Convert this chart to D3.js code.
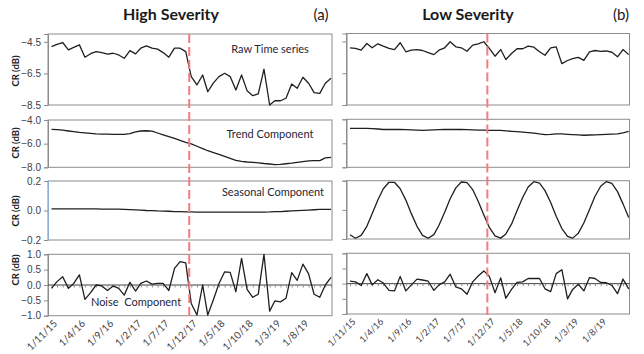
<!DOCTYPE html>
<html>
<head>
<meta charset="utf-8">
<script src="https://cdn.jsdelivr.net/npm/d3@7"></script>
<style>
  body { margin: 0; background: #fff; }
  svg { font-family: Lato, "Open Sans", sans-serif; }
</style>
</head>
<body>
<div id="chart"></div>
<script>
// monthly samples, Nov 2015 .. Jan 2020
const months = d3.timeMonth.range(new Date(2015, 10, 1), new Date(2020, 1, 1));
const tickLabels = ["1/11/15", "1/4/16", "1/9/16", "1/2/17", "1/7/17", "1/12/17", "1/5/18", "1/10/18", "1/3/19", "1/8/19"];
const changeDate = new Date(2017, 10, 20);

const panelNames = ["Raw Time series", "Trend Component", "Seasonal Component", "Noise  Component"];
const yDomains = [[-8.5, -4.0], [-8, -4], [-0.2, 0.2], [-1, 1]];
const yTicks = [[-4.5, -6.5, -8.5], [-4, -6, -8], [0.2, 0, -0.2], [1, 0.5, 0, -0.5, -1]];

const highRaw = [-4.80, -4.66, -4.54, -5.01, -4.85, -4.69, -5.47, -5.25, -5.12, -5.18,
  -5.28, -5.22, -5.33, -5.54, -5.05, -5.26, -4.90, -4.75, -4.90, -4.96,
  -5.18, -5.47, -4.90, -4.90, -5.12, -6.70, -7.23, -6.60, -7.66, -7.10,
  -6.70, -6.49, -6.70, -7.55, -6.60, -7.59, -7.91, -7.80, -6.23, -8.50,
  -8.23, -8.23, -8.07, -7.17, -7.44, -6.74, -7.12, -7.72, -7.76, -7.12, -6.81];
const highTrend = [-4.79, -4.82, -4.86, -4.93, -4.99, -5.05, -5.09, -5.13, -5.17, -5.19,
  -5.20, -5.21, -5.21, -5.21, -5.15, -5.00, -4.93, -4.91, -4.94, -5.10,
  -5.25, -5.40, -5.55, -5.72, -5.90, -6.02, -6.22, -6.42, -6.60, -6.75,
  -6.90, -7.08, -7.25, -7.42, -7.50, -7.55, -7.58, -7.62, -7.68, -7.72,
  -7.77, -7.75, -7.70, -7.65, -7.58, -7.52, -7.46, -7.44, -7.43, -7.20, -7.16];
const highSeasonal = [0.011, 0.011, 0.011, 0.011, 0.011, 0.011, 0.011, 0.011, 0.011, 0.010,
  0.010, 0.010, 0.010, 0.008, 0.006, 0.004, 0.002, 0.000, -0.001, -0.003,
  -0.004, -0.005, -0.007, -0.008, -0.009, -0.010, -0.011, -0.011, -0.011, -0.011,
  -0.011, -0.011, -0.011, -0.011, -0.011, -0.011, -0.011, -0.011, -0.011, -0.010,
  -0.008, -0.007, -0.005, -0.003, -0.001, 0.001, 0.003, 0.005, 0.007, 0.007, 0.007];
const highNoise = [-0.11, 0.11, 0.27, -0.11, 0.05, 0.33, -0.47, -0.25, 0.00, -0.03,
  -0.18, -0.03, -0.11, -0.33, 0.09, -0.20, 0.05, 0.13, 0.03, 0.05,
  0.05, -0.18, 0.54, 0.76, 0.72, -0.60, -0.98, 0.00, -0.98, -0.47,
  0.05, 0.43, 0.41, -0.22, 0.87, -0.14, -0.40, -0.30, 1.00, -0.85,
  -0.52, -0.55, -0.43, 0.40, 0.15, 0.68, 0.36, -0.30, -0.40, 0.00, 0.25];

const lowRaw = [-4.90, -4.94, -5.05, -4.63, -4.90, -4.65, -4.80, -4.94, -5.01, -4.58,
  -5.15, -5.05, -5.01, -5.07, -5.20, -5.33, -5.05, -4.90, -4.52, -4.84,
  -4.90, -5.12, -4.73, -4.65, -4.52, -4.94, -5.43, -5.01, -5.64, -5.26,
  -4.96, -4.96, -4.80, -4.86, -5.15, -5.37, -4.90, -4.84, -5.90, -5.70,
  -5.58, -5.50, -5.69, -5.15, -5.07, -5.12, -5.10, -5.18, -5.47, -5.01, -5.33];
const lowTrend = [-4.76, -4.76, -4.76, -4.76, -4.77, -4.81, -4.85, -4.85, -4.85, -4.85,
  -4.86, -4.88, -4.91, -4.93, -4.91, -4.88, -4.86, -4.85, -4.85, -4.85,
  -4.85, -4.86, -4.88, -4.90, -4.91, -4.92, -4.93, -4.93, -4.96, -5.00,
  -5.03, -5.07, -5.11, -5.15, -5.22, -5.27, -5.25, -5.22, -5.22, -5.25,
  -5.27, -5.30, -5.33, -5.31, -5.29, -5.27, -5.25, -5.23, -5.21, -5.13, -5.00];
const lowSeasonal = [-0.171, -0.195, -0.175, -0.113, -0.026, 0.067, 0.145, 0.189, 0.189, 0.145,
  0.067, -0.026, -0.113, -0.175, -0.195, -0.170, -0.106, -0.017, 0.076, 0.151,
  0.191, 0.187, 0.139, 0.059, -0.035, -0.121, -0.178, -0.194, -0.165, -0.098,
  -0.007, 0.085, 0.157, 0.193, 0.184, 0.132, 0.050, -0.044, -0.128, -0.182,
  -0.194, -0.160, -0.090, 0.002, 0.093, 0.162, 0.194, 0.181, 0.125, 0.041, -0.053];
const lowNoise = [0.08, 0.06, -0.06, 0.33, -0.04, 0.13, 0.02, -0.22, -0.24, 0.24,
  -0.24, -0.04, 0.15, 0.12, 0.08, -0.22, -0.04, 0.06, 0.31, -0.11,
  -0.17, -0.35, 0.06, 0.25, 0.42, 0.24, -0.30, 0.19, -0.48, -0.19,
  0.04, 0.06, 0.17, 0.17, 0.17, -0.17, -0.26, 0.33, 0.46, -0.50,
  -0.19, -0.02, -0.24, 0.20, 0.17, 0.04, 0.03, -0.06, -0.33, 0.15, -0.17];

const W = 644, H = 354;
const svg = d3.select("#chart").append("svg").attr("width", W).attr("height", H);

const sides = [
  {
    title: "High Severity", tag: "(a)", titleX: 171, tagX: 321,
    series: [highRaw, highTrend, highSeasonal, highNoise],
    boxX: [48, 332], dataX: [51.5, 331],
    rows: [[34, 105], [120, 167.3], [181, 240], [254.3, 315.7]],
    showLabels: true, fontScale: 1
  },
  {
    title: "Low Severity", tag: "(b)", titleX: 468, tagX: 621,
    series: [lowRaw, lowTrend, lowSeasonal, lowNoise],
    boxX: [346.5, 629.5], dataX: [350, 628.7],
    rows: [[33.5, 105], [119.3, 167.3], [180.7, 239], [253.3, 314]],
    showLabels: false, fontScale: 0.92
  }
];

// where the component names sit in the left chart
const namePos = [[270, 49], [270, 134], [273, 192], [136, 302]];
const ylabY = [71, 143, 211, 270];

const parseTick = d3.timeParse("%d/%m/%y");

sides.forEach(side => {
  const x = d3.scaleTime()
    .domain([months[0], months[months.length - 1]])
    .range(side.dataX);

  svg.append("text")
    .attr("x", side.titleX).attr("y", 20)
    .attr("text-anchor", "middle")
    .style("font-size", "16px").style("font-weight", "bold")
    .attr("fill", "#1a1a1a")
    .text(side.title);

  svg.append("text")
    .attr("x", side.tagX).attr("y", 20)
    .attr("text-anchor", "middle")
    .style("font-size", "15px")
    .attr("fill", "#1a1a1a")
    .text(side.tag);

  side.rows.forEach((row, i) => {
    const y = d3.scaleLinear().domain(yDomains[i]).range([row[1], row[0]]);
    const g = svg.append("g");

    // plot area frame
    g.append("rect")
      .attr("x", side.boxX[0]).attr("y", row[0])
      .attr("width", side.boxX[1] - side.boxX[0])
      .attr("height", row[1] - row[0])
      .attr("fill", "none")
      .attr("stroke", "#8c8c8c")
      .attr("stroke-width", 1);

    // y axis
    const yAxis = g.append("g")
      .attr("transform", `translate(${side.boxX[0]},0)`)
      .call(d3.axisLeft(y).tickValues(yTicks[i]).tickSize(4)
        .tickFormat(side.showLabels ? d3.format(".1f") : ""));
    yAxis.select(".domain")
      .attr("stroke", side.showLabels && i === 2 ? "#8eaadb" : "#8c8c8c");
    yAxis.selectAll(".tick line").attr("stroke", "#8c8c8c");
    yAxis.selectAll(".tick text")
      .attr("fill", "#404040")
      .style("font-size", "10px")
      .attr("x", -7);

    if (side.showLabels) {
      g.append("text")
        .attr("transform", `translate(19,${ylabY[i]}) rotate(-90)`)
        .attr("text-anchor", "middle")
        .style("font-size", "9.5px").style("font-weight", "bold")
        .attr("fill", "#1a1a1a")
        .text("CR (dB)");

      g.append("text")
        .attr("x", namePos[i][0]).attr("y", namePos[i][1])
        .attr("dy", "0.35em")
        .attr("text-anchor", "middle")
        .style("font-size", "11px")
        .style("white-space", "pre")
        .attr("fill", "#262638")
        .text(panelNames[i]);
    }

    // zero line with monthly ticks in the noise panel
    if (i === 3) {
      const zeroAxis = g.append("g")
        .attr("transform", `translate(0,${y(0)})`)
        .call(d3.axisBottom(x).ticks(d3.timeMonth.every(1)).tickSize(2.5).tickFormat(""));
      zeroAxis.select(".domain").attr("stroke", "#404040")
        .attr("d", `M${side.boxX[0]},0H${side.boxX[1]}`);
      zeroAxis.selectAll(".tick line").attr("stroke", "#8c8c8c");
    }

    const line = d3.line()
      .x((d, k) => x(months[k]))
      .y(d => y(d));

    g.append("path")
      .datum(side.series[i])
      .attr("fill", "none")
      .attr("stroke", "#1f1f1f")
      .attr("stroke-width", 1.3)
      .attr("stroke-linejoin", "round")
      .attr("d", line);
  });

  // date labels under the noise panel
  const bottom = side.rows[3][1];
  svg.append("g").selectAll("text")
    .data(tickLabels)
    .join("text")
    .attr("transform", d => `translate(${x(parseTick(d)) + 4},${bottom + 6}) rotate(-45)`)
    .attr("text-anchor", "end")
    .attr("dy", "0.35em")
    .style("font-size", (10 * side.fontScale) + "px")
    .attr("fill", "#404040")
    .text(d => d);

  // change date marker
  svg.append("line")
    .attr("x1", x(changeDate)).attr("x2", x(changeDate))
    .attr("y1", side.rows[0][0]).attr("y2", side.rows[3][1] + 1)
    .attr("stroke", "#f47c84")
    .attr("stroke-width", 2)
    .attr("stroke-dasharray", "9,4");
});
</script>
</body>
</html>
